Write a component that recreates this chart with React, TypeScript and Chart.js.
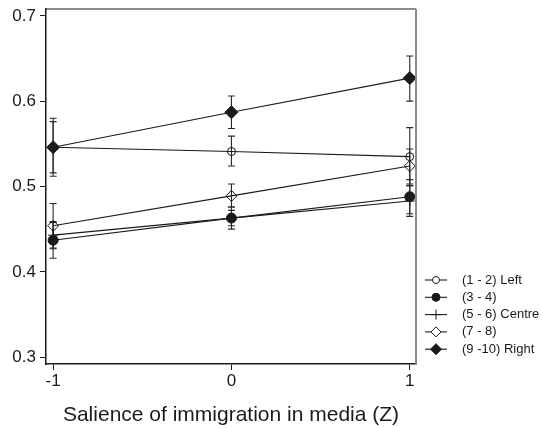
import React, { useEffect, useRef } from "react";
import { Chart, registerables } from "chart.js";

Chart.register(...registerables);

// ---- data ----
const xValues = [-1, 0, 1];
const seriesLabels = ["(1 - 2) Left", "(3 - 4)", "(5 - 6) Centre", "(7 - 8)", "(9 -10) Right"];

const leftMean = [0.546, 0.541, 0.535];
const leftLow = [0.512, 0.524, 0.501];
const leftHigh = [0.58, 0.559, 0.569];

const s34Mean = [0.437, 0.463, 0.488];
const s34Low = [0.416, 0.45, 0.468];
const s34High = [0.458, 0.476, 0.508];

const centreMean = [0.443, 0.463, 0.483];
const centreLow = [0.427, 0.454, 0.465];
const centreHigh = [0.459, 0.472, 0.501];

const s78Mean = [0.454, 0.489, 0.524];
const s78Low = [0.428, 0.476, 0.503];
const s78High = [0.48, 0.503, 0.544];

const rightMean = [0.546, 0.587, 0.627];
const rightLow = [0.516, 0.568, 0.6];
const rightHigh = [0.576, 0.606, 0.653];

const yTicks = [0.3, 0.4, 0.5, 0.6, 0.7];
const xTicks = [-1, 0, 1];
const xTitle = "Salience of immigration in media (Z)";

const means = [leftMean, s34Mean, centreMean, s78Mean, rightMean];
const lows = [leftLow, s34Low, centreLow, s78Low, rightLow];
const highs = [leftHigh, s34High, centreHigh, s78High, rightHigh];

// ---- styles ----
const INK = "#1a1a1a";
const FONT = "'Liberation Sans', Arial, Helvetica, sans-serif";
const markerStyles = [
  { style: "circle", radius: 4, fill: "rgba(0,0,0,0)", lr: 3.5 },
  { style: "circle", radius: 5, fill: INK, lr: 4 },
  { style: "cross", radius: 5, fill: "rgba(0,0,0,0)", lr: 5 },
  { style: "rectRot", radius: 5.5, fill: "rgba(0,0,0,0)", lr: 5 },
  { style: "rectRot", radius: 6.5, fill: INK, lr: 5.5 },
];

function drawMarker(ctx: CanvasRenderingContext2D, style: string, r: number, fill: string, x: number, y: number) {
  ctx.beginPath();
  if (style === "circle") {
    ctx.arc(x, y, r, 0, Math.PI * 2);
    ctx.closePath();
  } else if (style === "rectRot") {
    ctx.moveTo(x - r, y);
    ctx.lineTo(x, y - r);
    ctx.lineTo(x + r, y);
    ctx.lineTo(x, y + r);
    ctx.closePath();
  } else if (style === "cross") {
    ctx.moveTo(x, y - r);
    ctx.lineTo(x, y + r);
    ctx.moveTo(x - r, y);
    ctx.lineTo(x + r, y);
  }
  if (style !== "cross") {
    ctx.fillStyle = fill;
    ctx.fill();
  }
  ctx.stroke();
}

const errorBarPlugin = {
  id: "errorBars",
  beforeDatasetsDraw(chart: any) {
    const { ctx, scales } = chart;
    const xs = scales.x;
    const ys = scales.y;
    ctx.save();
    ctx.strokeStyle = "#2a2a2a";
    ctx.lineWidth = 1.1;
    for (let i = 0; i < means.length; i++) {
      for (let j = 0; j < xValues.length; j++) {
        const px = xs.getPixelForValue(xValues[j]);
        const p1 = ys.getPixelForValue(lows[i][j]);
        const p2 = ys.getPixelForValue(highs[i][j]);
        ctx.beginPath();
        ctx.moveTo(px, p1);
        ctx.lineTo(px, p2);
        ctx.moveTo(px - 3.5, p1);
        ctx.lineTo(px + 3.5, p1);
        ctx.moveTo(px - 3.5, p2);
        ctx.lineTo(px + 3.5, p2);
        ctx.stroke();
      }
    }
    ctx.restore();
  },
};

const framePlugin = {
  id: "frame",
  afterDraw(chart: any) {
    const { ctx, chartArea } = chart;
    ctx.save();
    ctx.strokeStyle = INK;
    ctx.lineWidth = 1.2;
    ctx.beginPath();
    ctx.moveTo(chartArea.left, chartArea.top);
    ctx.lineTo(chartArea.right, chartArea.top);
    ctx.stroke();
    ctx.strokeStyle = "#8a8a8a";
    ctx.lineWidth = 2;
    ctx.beginPath();
    ctx.moveTo(chartArea.right, chartArea.top);
    ctx.lineTo(chartArea.right, chartArea.bottom);
    ctx.stroke();
    ctx.restore();
  },
};

const legendPlugin = {
  id: "customLegend",
  afterDraw(chart: any) {
    const { ctx, chartArea } = chart;
    const x0 = chartArea.right + 9;
    const lineLen = 22;
    const rowH = 17.3;
    const y0 = chartArea.bottom - 84;
    ctx.save();
    chart.data.datasets.forEach((ds: any, i: number) => {
      const y = y0 + i * rowH;
      ctx.strokeStyle = INK;
      ctx.lineWidth = 1.1;
      ctx.beginPath();
      ctx.moveTo(x0, y);
      ctx.lineTo(x0 + lineLen, y);
      ctx.stroke();
      const m = markerStyles[i];
      ctx.lineWidth = 1;
      drawMarker(ctx, m.style, m.lr, m.fill === INK ? INK : "#ffffff", x0 + lineLen / 2, y);
      ctx.fillStyle = INK;
      ctx.font = `13px ${FONT}`;
      ctx.textBaseline = "middle";
      ctx.textAlign = "left";
      ctx.fillText(ds.label, x0 + 37, y);
    });
    ctx.restore();
  },
};

export default function App() {
  const ref = useRef<HTMLCanvasElement | null>(null);

  useEffect(() => {
    if (!ref.current) return;
    const datasets = seriesLabels.map((label, i) => ({
      label,
      data: xValues.map((x, j) => ({ x, y: means[i][j] })),
      borderColor: INK,
      borderWidth: 1.2,
      pointStyle: markerStyles[i].style,
      pointRadius: markerStyles[i].radius,
      pointBackgroundColor: markerStyles[i].fill,
      pointBorderColor: INK,
      pointBorderWidth: 1,
      tension: 0,
      fill: false,
    }));

    const chart = new Chart(ref.current, {
      type: "line",
      data: { datasets },
      plugins: [errorBarPlugin, framePlugin, legendPlugin],
      options: {
        animation: false,
        responsive: false,
        layout: { padding: { top: 9, right: 127, bottom: 0, left: 0 } },
        plugins: { legend: { display: false }, tooltip: { enabled: false } },
        scales: {
          x: {
            type: "linear",
            min: -1.04,
            max: 1.035,
            afterBuildTicks: (s: any) => {
              s.ticks = xTicks.map((v) => ({ value: v }));
            },
            afterFit: (s: any) => {
              s.height = 64;
              s.paddingLeft = 0;
              s.paddingRight = 0;
            },
            ticks: {
              color: INK,
              font: { size: 17, family: FONT },
              padding: 1,
              maxRotation: 0,
              callback: (v: any) => String(v),
            },
            grid: { drawOnChartArea: false, drawTicks: true, tickLength: 6, color: INK, lineWidth: 1 },
            border: { display: true, color: INK, width: 1.5 },
            title: {
              display: true,
              text: xTitle,
              color: INK,
              font: { size: 21, family: FONT },
              padding: { top: 0, bottom: 0 },
            },
          },
          y: {
            type: "linear",
            min: 0.292,
            max: 0.708,
            afterBuildTicks: (s: any) => {
              s.ticks = yTicks.map((v) => ({ value: v }));
            },
            afterFit: (s: any) => {
              s.width = 46;
              s.paddingTop = 0;
              s.paddingBottom = 0;
            },
            ticks: {
              color: INK,
              font: { size: 17, family: FONT },
              padding: 4,
              callback: (v: any) => Number(v).toFixed(1),
            },
            grid: { drawOnChartArea: false, drawTicks: true, tickLength: 6, color: INK, lineWidth: 1 },
            border: { display: true, color: INK, width: 1.5 },
          },
        },
      } as any,
    });
    return () => chart.destroy();
  }, []);

  return (
    <div style={{ position: "absolute", left: 0, top: 0, width: 543, height: 428, background: "#fff" }}>
      <canvas ref={ref} width={543} height={428} style={{ display: "block" }} />
    </div>
  );
}
